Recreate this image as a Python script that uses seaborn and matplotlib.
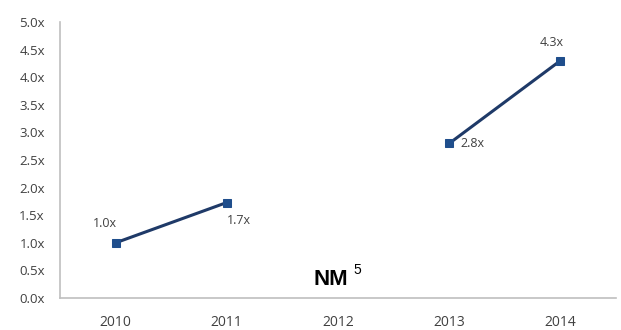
import numpy as np
import pandas as pd
import matplotlib
matplotlib.use("Agg")
import matplotlib.pyplot as plt
import seaborn as sns

# Multiples by year (2012 not meaningful)
years = ["2010", "2011", "2012", "2013", "2014"]
multiples = [1.0, 1.73, np.nan, 2.8, 4.3]
segments = [0, 0, -1, 1, 1]
y_ticks = [0.0, 0.5, 1.0, 1.5, 2.0, 2.5, 3.0, 3.5, 4.0, 4.5, 5.0]

sns.set_style("white")
plt.rcParams["font.family"] = ["Open Sans", "DejaVu Sans"]

df = pd.DataFrame({"pos": range(len(years)), "value": multiples, "segment": segments})
df = df.dropna()

fig = plt.figure(figsize=(6.21, 3.30), dpi=100)
ax = fig.add_axes([60 / 621, 32 / 330, 556 / 621, 276 / 330])

line_color = "#1F3A68"
sns.lineplot(data=df, x="pos", y="value", units="segment", estimator=None,
             color=line_color, linewidth=2.2, marker="s", markersize=6,
             markerfacecolor="#1F4E8C", markeredgecolor="#1F4E8C", ax=ax)

ax.set_xlim(-0.5, len(years) - 0.5)
ax.set_ylim(0, 5)
ax.set_yticks(y_ticks)
ax.set_yticklabels([f"{v:.1f}x" for v in y_ticks])
ax.set_xticks(range(len(years)))
ax.set_xticklabels(years)
ax.set_xlabel("")
ax.set_ylabel("")

txt_color = "#404040"
ax.tick_params(axis="x", labelsize=10, colors=txt_color, length=0, pad=12)
ax.tick_params(axis="y", labelsize=9.5, colors=txt_color, pad=7)

# category boundary ticks on x axis and tick marks on y axis
ax.set_xticks(np.arange(0.5, len(years), 1.0), minor=True)
ax.tick_params(axis="x", which="minor", length=4, color="#BFBFBF", direction="inout")
ax.tick_params(axis="y", which="major", length=4, color="#BFBFBF", direction="out")

for side in ["top", "right"]:
    ax.spines[side].set_visible(False)
for side in ["left", "bottom"]:
    ax.spines[side].set_color("#BFBFBF")
    ax.spines[side].set_linewidth(1.2)

# value labels
offsets = {0: (-8, 14), 1: (9, -13), 3: (17, 0), 4: (-6, 13)}
for i, v in enumerate(multiples):
    if np.isnan(v):
        continue
    dx, dy = offsets[i]
    ax.annotate(f"{v:.1f}x", (i, v), xytext=(dx, dy), textcoords="offset points",
                ha="center", va="center", fontsize=9, color=txt_color)

ax.text(2.09, 0.24, "NM", ha="right", va="baseline", fontsize=16,
        fontweight="bold", family="Liberation Sans", color="black")
ax.text(2.17, 0.43, "5", ha="center", va="baseline", fontsize=10,
        family="Liberation Sans", color="black")

fig.savefig("out.png", dpi=100, facecolor="white")
